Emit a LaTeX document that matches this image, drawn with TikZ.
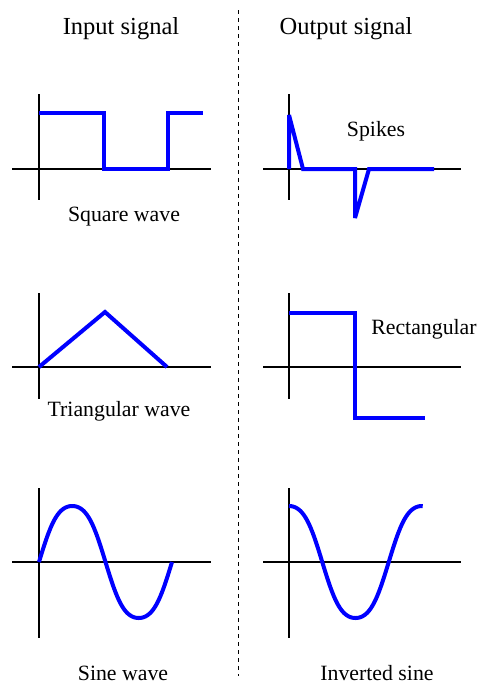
\documentclass[tikz,border=0pt]{standalone}
\usepackage{fontspec}
\setmainfont{Liberation Serif}
\begin{document}
\begin{tikzpicture}[x=1pt,y=-1pt,
  axis/.style={draw=black,line width=1.6pt},
  wave/.style={draw=blue,line width=4pt,miter limit=2},
  divider/.style={draw=black,line width=0.9pt,dash pattern=on 4pt off 4pt},
  title/.style={font=\fontsize{24.5}{28}\selectfont,inner sep=0pt},
  lbl/.style={font=\fontsize{21.8}{25}\selectfont,inner sep=0pt},
  declare function={fs(\t)=(sin(\t)+sin(3*\t)/18)*18/17;
                    fc(\t)=(cos(\t)-cos(3*\t)/18)*18/17;}]
\useasboundingbox (0,0) rectangle (478,686);
% divider
\coordinate (dtop) at (238,10);
\coordinate (dbot) at (238,676);
\draw[divider] (dtop) -- (dbot);
% titles
\node[title] (tin) at (121,29) {Input signal};
\node[title] (tout) at (346,29) {Output signal};
% ---- panel 1: square wave
\draw[axis] (12,169) -- (211,169);
\draw[axis] (39,94) -- (39,200);
\draw[wave] (39,113) -- (104,113) -- (104,169) -- (168,169) -- (168,113) -- (203,113);
\node[lbl] (l1) at (124,217) {Square wave};
% ---- panel 2: spikes
\draw[axis] (263,169) -- (461,169);
\draw[axis] (289,94) -- (289,200);
\draw[wave] (289,169) -- (289,115) -- (303,169) -- (355,169) -- (355,218) -- (369,169) -- (434,169);
\node[lbl] (l2) at (376,131) {Spikes};
% ---- panel 3: triangular
\draw[axis] (12,367) -- (211,367);
\draw[axis] (39,293) -- (39,399);
\draw[wave] (39,367) -- (105,312) -- (167,367);
\node[lbl] (l3) at (119,411) {Triangular wave};
% ---- panel 4: rectangular
\draw[axis] (263,367) -- (461,367);
\draw[axis] (289,293) -- (289,399);
\draw[wave] (289,313) -- (355,313) -- (355,418) -- (425,418);
\node[lbl] (l4) at (424,329) {Rectangular};
% ---- panel 5: sine
\draw[axis] (12,562) -- (211,562);
\draw[axis] (39,488) -- (39,638);
\draw[wave] plot[domain=0:360,samples=145,smooth] ({39+\x/360*133},{562-56*fs(\x)});
\node[lbl] (l5) at (123,673) {Sine wave};
% ---- panel 6: inverted sine
\draw[axis] (263,562) -- (461,562);
\draw[axis] (289,488) -- (289,638);
\draw[wave] plot[domain=0:362,samples=145,smooth] ({289+\x/360*133},{562-56*fc(\x)});
\node[lbl] (l6) at (377,673) {Inverted sine};
\end{tikzpicture}
\end{document}
